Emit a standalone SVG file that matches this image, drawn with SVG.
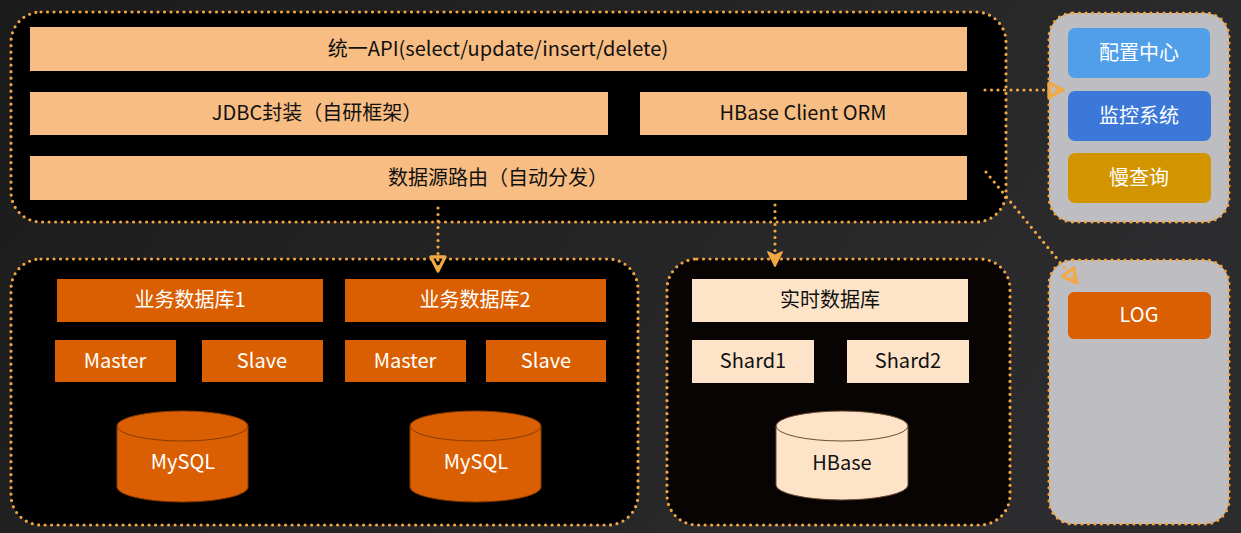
<svg xmlns="http://www.w3.org/2000/svg" width="1241" height="533" viewBox="0 0 1241 533">
<defs>
<linearGradient id="bg" x1="0" y1="0" x2="1" y2="0.3">
<stop offset="0" stop-color="#1b1b1b"/>
<stop offset="1" stop-color="#2c2c2e"/>
</linearGradient>
<marker id="tri" viewBox="0 0 10 10" refX="9" refY="5" markerWidth="5.5" markerHeight="5.5" orient="auto" markerUnits="strokeWidth">
<path d="M1,1 L9,5 L1,9 Z" fill="none" stroke="#f3a844" stroke-width="1.8" stroke-linejoin="round"/>
</marker>
<marker id="vee" viewBox="0 0 10 10" refX="9" refY="5" markerWidth="5.5" markerHeight="5.5" orient="auto" markerUnits="strokeWidth">
<path d="M1,1 L9,5 L1,9 L3,5 Z" fill="#f3a844" stroke="#f3a844" stroke-width="1" stroke-linejoin="round"/>
</marker>
<style>
text{font-family:"Noto Sans CJK SC","Noto Sans",sans-serif;text-anchor:middle;dominant-baseline:central}
.panel{stroke:#f0a544;stroke-width:3.2;stroke-dasharray:0 6.5;stroke-linecap:round}
.dark{fill:#000}
.gray{fill:#bebec2}
.bar{fill:#f8bd83}
.lt{fill:#fde4c9}
.or{fill:#d95f02}
.dtext{fill:#111;font-size:20px}
.wtext{fill:#fff;font-size:20px}
.conn{fill:none;stroke:#f3a844;stroke-width:3.2;stroke-dasharray:0 6.5;stroke-linecap:round}
.cylo{fill:#d95f02;stroke:#8a3a00;stroke-width:1}
.cyll{fill:#fde4c9;stroke:#6a4a30;stroke-width:1}
</style>
</defs>
<rect width="1241" height="533" fill="url(#bg)"/>

<g id="top-panel">
<rect x="11" y="12" width="995" height="210" rx="30" class="panel dark"/>
</g>
<g id="api"><rect x="30" y="27" width="937" height="44" class="bar"/><text x="498" y="47" class="dtext">统一API(select/update/insert/delete)</text></g>
<g id="jdbc"><rect x="30" y="92" width="578" height="43" class="bar"/><text x="317" y="111" class="dtext">JDBC封装（自研框架）</text></g>
<g id="hbase-orm"><rect x="640" y="92" width="327" height="43" class="bar"/><text x="803" y="111" class="dtext">HBase Client ORM</text></g>
<g id="router"><rect x="30" y="156" width="937" height="44" class="bar"/><text x="498" y="176" class="dtext">数据源路由（自动分发）</text></g>

<g id="mysql-panel">
<rect x="11" y="259" width="627" height="266" rx="30" class="panel dark"/>
</g>
<g id="biz1"><rect x="57" y="279" width="266" height="43" class="or"/><text x="190" y="298" class="wtext">业务数据库1</text></g>
<g id="biz2"><rect x="345" y="279" width="261" height="43" class="or"/><text x="475" y="298" class="wtext">业务数据库2</text></g>
<g id="master1"><rect x="55" y="340" width="121" height="42" class="or"/><text x="115" y="359" class="wtext">Master</text></g>
<g id="slave1"><rect x="202" y="340" width="121" height="42" class="or"/><text x="262" y="359" class="wtext">Slave</text></g>
<g id="master2"><rect x="345" y="340" width="121" height="42" class="or"/><text x="405" y="359" class="wtext">Master</text></g>
<g id="slave2"><rect x="486" y="340" width="120" height="42" class="or"/><text x="546" y="359" class="wtext">Slave</text></g>
<g id="mysql1">
<path d="M117,426 L117,487 A65.5,15 0 0 0 248,487 L248,426 A65.5,15 0 0 0 117,426 Z" class="cylo"/>
<path d="M117,426 A65.5,15 0 0 0 248,426" fill="none" stroke="#8a3a00" stroke-width="1"/>
<text x="183" y="460" class="wtext">MySQL</text>
</g>
<g id="mysql2">
<path d="M410,426 L410,487 A65.5,15 0 0 0 541,487 L541,426 A65.5,15 0 0 0 410,426 Z" class="cylo"/>
<path d="M410,426 A65.5,15 0 0 0 541,426" fill="none" stroke="#8a3a00" stroke-width="1"/>
<text x="476" y="460" class="wtext">MySQL</text>
</g>

<g id="hbase-panel">
<rect x="667" y="259" width="343" height="266" rx="30" class="panel" fill="#070403"/>
</g>
<g id="realtime"><rect x="692" y="279" width="276" height="43" class="lt"/><text x="830" y="298" class="dtext">实时数据库</text></g>
<g id="shard1"><rect x="692" y="340" width="122" height="43" class="lt"/><text x="753" y="359" class="dtext">Shard1</text></g>
<g id="shard2"><rect x="847" y="340" width="122" height="43" class="lt"/><text x="908" y="359" class="dtext">Shard2</text></g>
<g id="hbase">
<path d="M776,426 L776,485 A66,15 0 0 0 908,485 L908,426 A66,15 0 0 0 776,426 Z" class="cyll"/>
<path d="M776,426 A66,15 0 0 0 908,426" fill="none" stroke="#6a4a30" stroke-width="1"/>
<text x="842" y="461" class="dtext">HBase</text>
</g>

<g id="ops-panel">
<rect x="1049" y="13" width="180" height="209" rx="24" class="panel gray"/>
</g>
<g id="config"><rect x="1068" y="28" width="142" height="50" rx="7" fill="#519fe9"/><text x="1139" y="51" class="wtext">配置中心</text></g>
<g id="monitor"><rect x="1068" y="91" width="143" height="50" rx="7" fill="#3b78d8"/><text x="1139" y="114" class="wtext">监控系统</text></g>
<g id="slowquery"><rect x="1068" y="153" width="143" height="50" rx="7" fill="#d29500"/><text x="1139" y="176" class="wtext">慢查询</text></g>

<g id="log-panel">
<rect x="1049" y="260" width="180" height="264" rx="24" class="panel gray"/>
</g>
<g id="log"><rect x="1068" y="292" width="143" height="47" rx="6" class="or"/><text x="1139" y="313" class="wtext">LOG</text></g>

<g id="connectors">
<path d="M438,208 L438,271" class="conn" marker-end="url(#tri)"/>
<path d="M775,205 L775,266" class="conn" marker-end="url(#vee)"/>
<path d="M985,90 L1063,90" class="conn" marker-end="url(#tri)"/>
<path d="M986,172 L1077,283" class="conn" marker-end="url(#tri)"/>
</g>
</svg>
